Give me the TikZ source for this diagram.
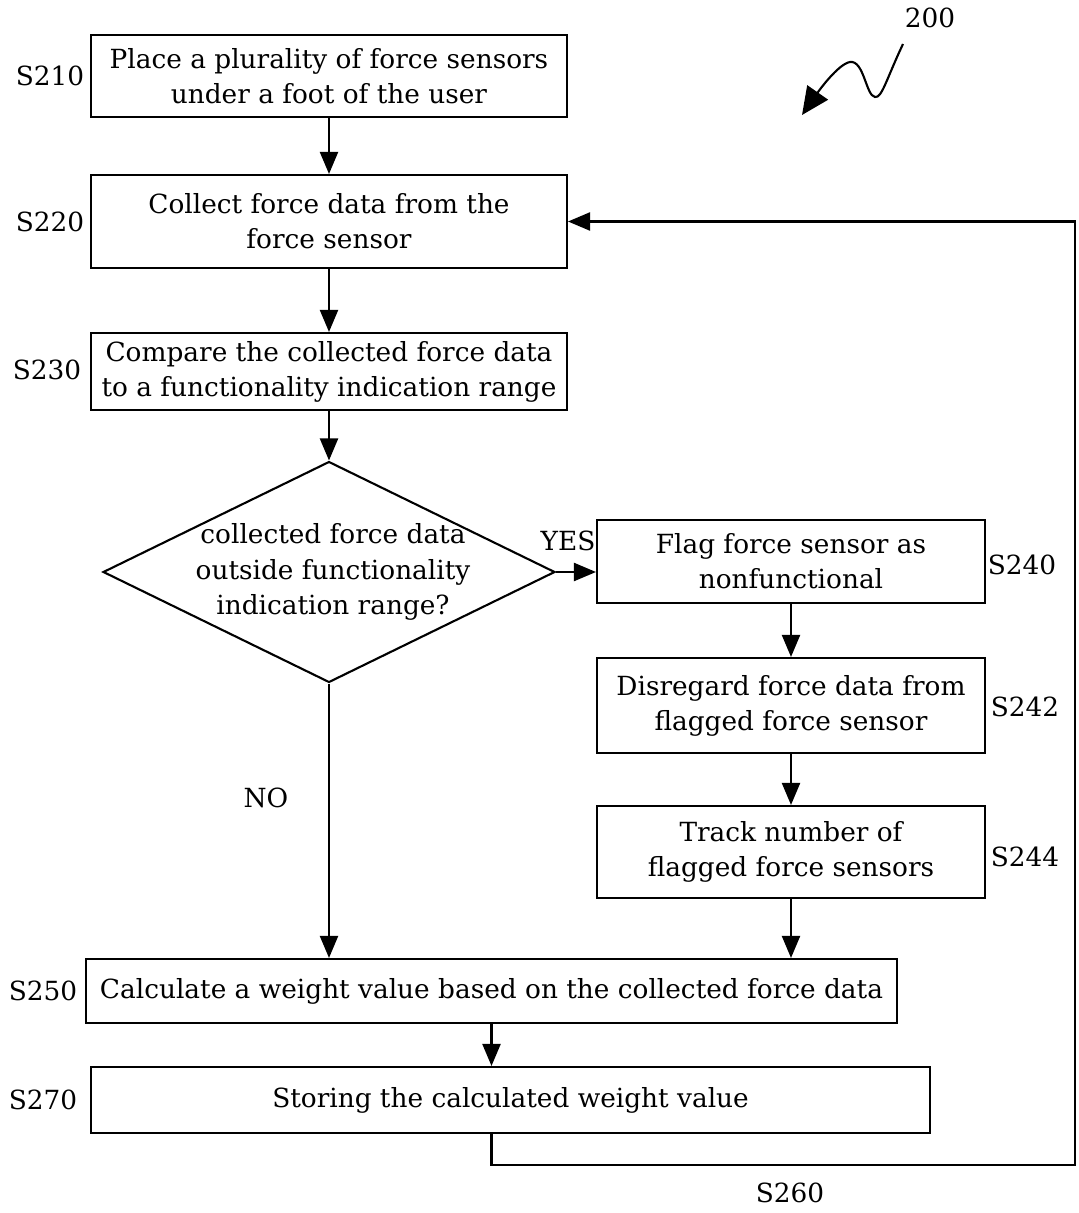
\documentclass[tikz,border=0pt]{standalone}
\usepackage{fontspec}
\setmainfont{DejaVu Serif}
\usetikzlibrary{arrows.meta,shapes.geometric}

\begin{document}
\fontsize{15}{20}\selectfont
\begin{tikzpicture}[x=0.02cm,y=-0.02cm,line width=1.2pt,
    box/.style={draw,rectangle,align=center,inner sep=2pt},
    tag/.style={inner sep=0pt},
    flow/.style={-{Triangle[length=0.44cm,width=0.36cm]}}]
    \useasboundingbox (0,0) rectangle (1078,1213);
    % main column
    \node[box,minimum width=9.52cm,minimum height=1.64cm] (s210) at (329,76) {Place a plurality of force sensors\\under a foot of the user};
    \node[box,minimum width=9.52cm,minimum height=1.86cm] (s220) at (329,221.5) {Collect force data from the\\force sensor};
    \node[box,minimum width=9.52cm,minimum height=1.54cm] (s230) at (329,371.5) {Compare the collected force data\\to a functionality indication range};
    \node[draw,diamond,minimum width=9.04cm,minimum height=4.42cm,inner sep=0pt] (dec) at (329,572) {};
    \node[align=center] (dectext) at (333,572) {collected force data\\outside functionality\\indication range?};
    % right column
    \node[box,minimum width=7.76cm,minimum height=1.66cm] (s240) at (791,561.5) {Flag force sensor as\\nonfunctional};
    \node[box,minimum width=7.76cm,minimum height=1.9cm] (s242) at (791,705.5) {Disregard force data from\\flagged force sensor};
    \node[box,minimum width=7.76cm,minimum height=1.84cm] (s244) at (791,852) {Track number of\\flagged force sensors};
    % bottom
    \node[box,minimum width=16.22cm,minimum height=1.28cm] (s250) at (491.5,991) {Calculate a weight value based on the collected force data};
    \node[box,minimum width=16.78cm,minimum height=1.32cm] (s270) at (510.5,1100) {Storing the calculated weight value};
    % step labels
    \node[tag] (l210) at (50,76) {S210};
    \node[tag] (l220) at (50,222) {S220};
    \node[tag] (l230) at (47,370) {S230};
    \node[tag] (l240) at (1022,565) {S240};
    \node[tag] (l242) at (1025,707) {S242};
    \node[tag] (l244) at (1025,857) {S244};
    \node[tag] (l250) at (43,991) {S250};
    \node[tag] (l270) at (43,1100) {S270};
    \node[tag] (l260) at (790,1193) {S260};
    \node[tag] (l200) at (930,18) {200};
    \node[tag] (yes) at (568,541) {YES};
    \node[tag] (no) at (266,798) {NO};
    \coordinate (ret) at (1075,1165);
    % connectors
    \draw[flow] (s210) -- (s220);
    \draw[flow] (s220) -- (s230);
    \draw[flow] (s230) -- (dec.north);
    \draw[flow] (dec.east) -- (dec.east -| s240.west);
    \draw[flow] (s240) -- (s242);
    \draw[flow] (s242) -- (s244);
    \draw[flow] (s244.south) -- (s244.south |- s250.north);
    \draw[flow] (dec.south) -- (dec.south |- s250.north);
    \draw[flow] (s250.south) -- (s250.south |- s270.north);
    \draw[flow] (s270.south -| s250.south) |- (ret) |- (s220.east);
    \draw[-{Triangle[length=0.55cm,width=0.5cm]}] (903,44) .. controls (886,80) and (882,98) .. (875,97)
        .. controls (866,96) and (864,60) .. (850,62) .. controls (838,64) and (818,92) .. (802,115);
\end{tikzpicture}
\end{document}
